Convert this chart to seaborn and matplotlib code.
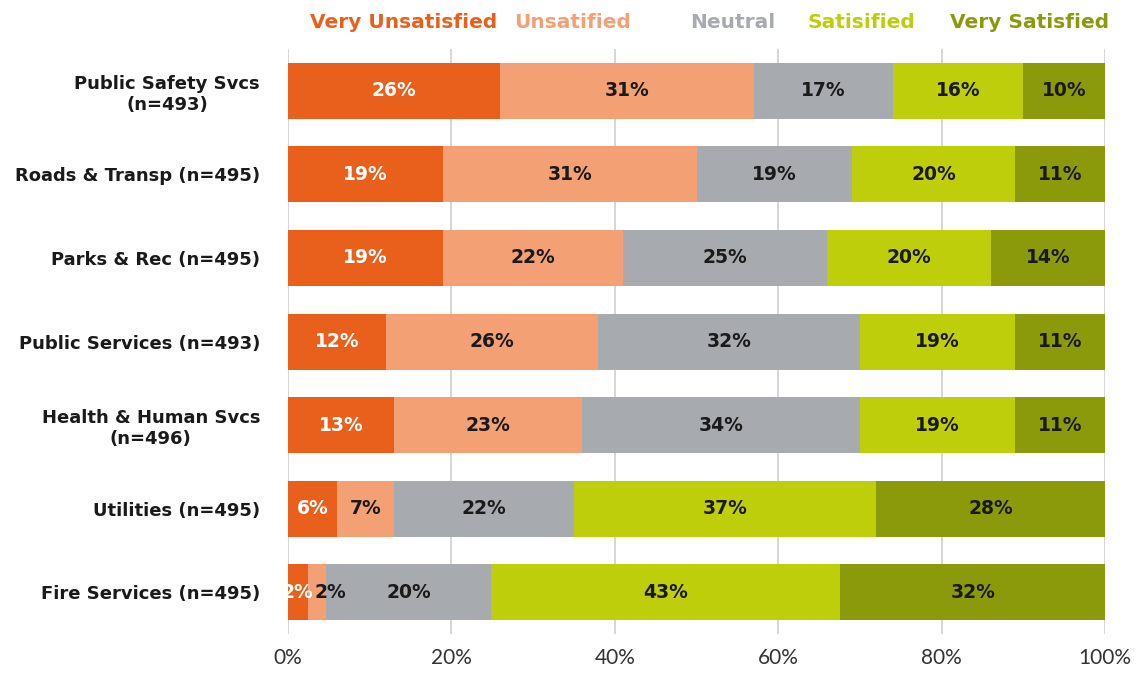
import numpy as np
import pandas as pd
import matplotlib
matplotlib.use("Agg")
import matplotlib.pyplot as plt
import seaborn as sns

categories = [
    "Public Safety Svcs\n(n=493)",
    "Roads & Transp (n=495)",
    "Parks & Rec (n=495)",
    "Public Services (n=493)",
    "Health & Human Svcs\n(n=496)",
    "Utilities (n=495)",
    "Fire Services (n=495)",
]
levels = ["Very Unsatisfied", "Unsatified", "Neutral", "Satisified", "Very Satisfied"]
very_unsatisfied = [26, 19, 19, 12, 13, 6, 2.4]
unsatisfied = [31, 31, 22, 26, 23, 7, 2.3]
neutral = [17, 19, 25, 32, 34, 22, 20.2]
satisfied = [16, 20, 20, 19, 19, 37, 42.7]
very_satisfied = [10, 11, 14, 11, 11, 28, 32.4]
x_ticks = [0, 20, 40, 60, 80, 100]

colors = ["#E8601C", "#F2A074", "#A7ABB0", "#BFCE0A", "#8A9A0B"]
label_colors = ["white", "#1a1a1a", "#1a1a1a", "#1a1a1a", "#1a1a1a"]

sns.set_theme(style="white")
plt.rcParams["font.family"] = ["DejaVu Sans"]

values = np.array([very_unsatisfied, unsatisfied, neutral, satisfied, very_satisfied])
cum = values.cumsum(axis=0)

fig = plt.figure(figsize=(11.47, 6.74), dpi=100)
ax = fig.add_axes([0.251, 0.0593, 0.7125, 0.868])

# stacked bars: draw cumulative totals from the outermost layer inward
for i in range(len(levels) - 1, -1, -1):
    df = pd.DataFrame({"category": categories, "total": cum[i]})
    sns.barplot(data=df, x="total", y="category", color=colors[i],
                saturation=1, width=0.67, ax=ax, zorder=2, linewidth=0)

for i in range(len(levels)):
    for j in range(len(categories)):
        v = values[i, j]
        left = cum[i, j] - v
        x = left + v / 2
        ha = "center"
        if v < 3 and i > 0:
            x = left + 0.8
            ha = "left"
        ax.text(x, j, f"{v:.0f}%", ha=ha, va="center", fontsize=13.5,
                fontweight="bold", color=label_colors[i], zorder=3)

ax.set_xlim(0, 100)
ax.set_ylim(len(categories) - 0.5, -0.5)
ax.set_xticks(x_ticks)
ax.set_xticklabels([f"{t}%" for t in x_ticks], fontsize=15, color="#333333",
                   family=["Lato", "DejaVu Sans"])
ax.xaxis.grid(True, color="#D0D0D0", linewidth=1.2, zorder=0)
ax.set_axisbelow(True)
ax.set_xlabel("")
ax.set_ylabel("")
for s in ax.spines.values():
    s.set_visible(False)
ax.tick_params(axis="x", length=0, pad=10)
ax.tick_params(axis="y", length=0, pad=20)
for lab in ax.get_yticklabels():
    lab.set_fontsize(13)
    lab.set_fontweight("bold")
    lab.set_color("#1a1a1a")
    lab.set_multialignment("center")

# colored text legend along the top
legend_x = [0.270, 0.448, 0.602, 0.704, 0.828]
for name, c, lx in zip(levels, colors, legend_x):
    fig.text(lx, 0.966, name, color=c, fontsize=14.5, fontweight="bold",
             ha="left", va="center")

fig.savefig("out.png", dpi=100, facecolor="white")
